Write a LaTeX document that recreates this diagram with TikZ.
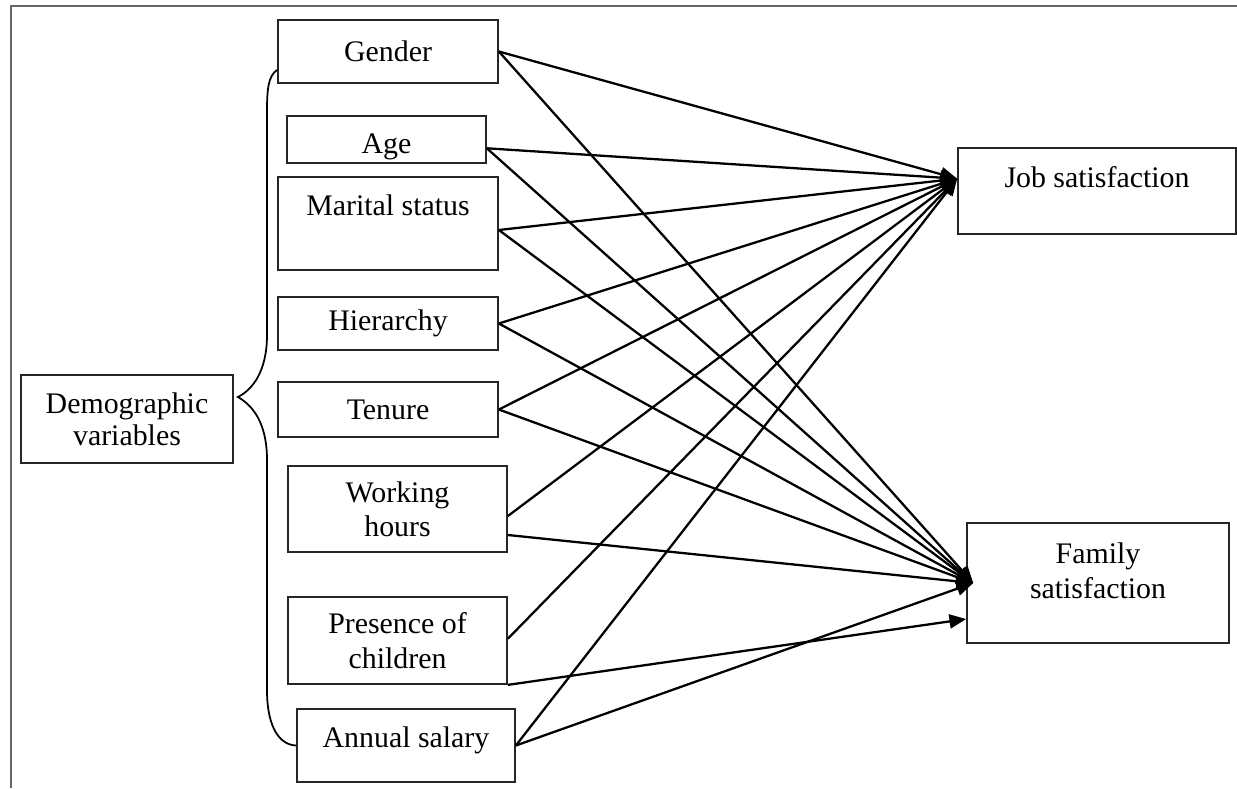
\documentclass[tikz,border=0pt]{standalone}
\usepackage{fontspec}
\setmainfont{Liberation Serif}
\usetikzlibrary{arrows.meta, calc}
\tikzset{
  box/.style={draw=black!85, line width=1pt, fill=white, align=center, inner sep=2pt, font=\fontsize{17}{19.5}\selectfont},
  arr/.style={-{Triangle[length=9.5pt, width=8pt]}, line width=1.3pt},
  curly/.style={line width=1pt},
  frame/.style={draw=black!60, line width=1.2pt},
}

\begin{document}
\begin{tikzpicture}[x=0.02cm, y=-0.02cm]
  \useasboundingbox (0,0) rectangle (1237,788);
  \draw[frame] (1237,6) -- (11,6) -- (11,788);

  % grouping node
  \node[box, minimum width=4.24cm, minimum height=1.76cm, font=\fontsize{17}{18}\selectfont] (dem) at (127,419) {Demographic\\variables};

  % predictors
  \node[box, minimum width=4.4cm, minimum height=1.26cm] (gender) at (388,51.5) {Gender};
  \node[box, minimum width=3.98cm, minimum height=0.94cm, inner ysep=0pt, text height=20pt, text depth=3.7pt] (age) at (386.5,139.5) {Age};
  \node[box, minimum width=4.4cm, minimum height=1.86cm, text depth=21pt] (marital) at (388,223.5) {Marital status};
  \node[box, minimum width=4.4cm, minimum height=1.06cm] (hierarchy) at (388,323.5) {Hierarchy};
  \node[box, minimum width=4.4cm, minimum height=1.1cm] (tenure) at (388,409.5) {Tenure};
  \node[box, minimum width=4.38cm, minimum height=1.72cm] (working) at (397.5,509) {Working\\hours};
  \node[box, minimum width=4.38cm, minimum height=1.74cm] (children) at (397.5,640.5) {Presence of\\children};
  \node[box, minimum width=4.36cm, minimum height=1.46cm, text depth=10pt] (salary) at (406,745.5) {Annual salary};

  % outcomes
  \node[box, minimum width=5.56cm, minimum height=1.72cm, text depth=16pt] (job) at (1097,191) {Job satisfaction};
  \node[box, minimum width=5.24cm, minimum height=2.4cm, text depth=14pt] (family) at (1098,583) {Family\\satisfaction};

  % brace from the group to its variables
  \draw[curly] ([yshift=-10.5pt]gender.west) .. controls (268,76) and (267,90) .. (267,112)
    -- (267,335) .. controls (267,372) and (252,390) .. ([shift={(4,-22)}]dem.east)
    .. controls (252,405) and (267,422) .. (267,460)
    -- (267,690) .. controls (267,728) and (280,745) .. (salary.west);

  % paths
  \foreach \n in {gender, hierarchy, tenure, salary} {
    \draw[arr] (\n.east) -- ([yshift=7pt]job.west);
    \draw[arr] (\n.east) -- ([xshift=4pt]family.west);
  }
  \draw[arr] ([yshift=-5pt]age.east) -- ([yshift=7pt]job.west);
  \draw[arr] ([yshift=-5pt]age.east) -- ([xshift=4pt]family.west);
  \draw[arr] ([yshift=-3.7pt]marital.east) -- ([yshift=7pt]job.west);
  \draw[arr] ([yshift=-3.7pt]marital.east) -- ([xshift=4pt]family.west);
  \draw[arr] ([yshift=-4pt]working.east) -- ([yshift=7pt]job.west);
  \draw[arr] ([yshift=-14.8pt]working.east) -- ([xshift=4pt]family.west);
  \draw[arr] ([yshift=1pt]children.east) -- ([yshift=7pt]job.west);
  \draw[arr] (children.south east) -- ([yshift=-20.5pt]family.west);
\end{tikzpicture}
\end{document}
